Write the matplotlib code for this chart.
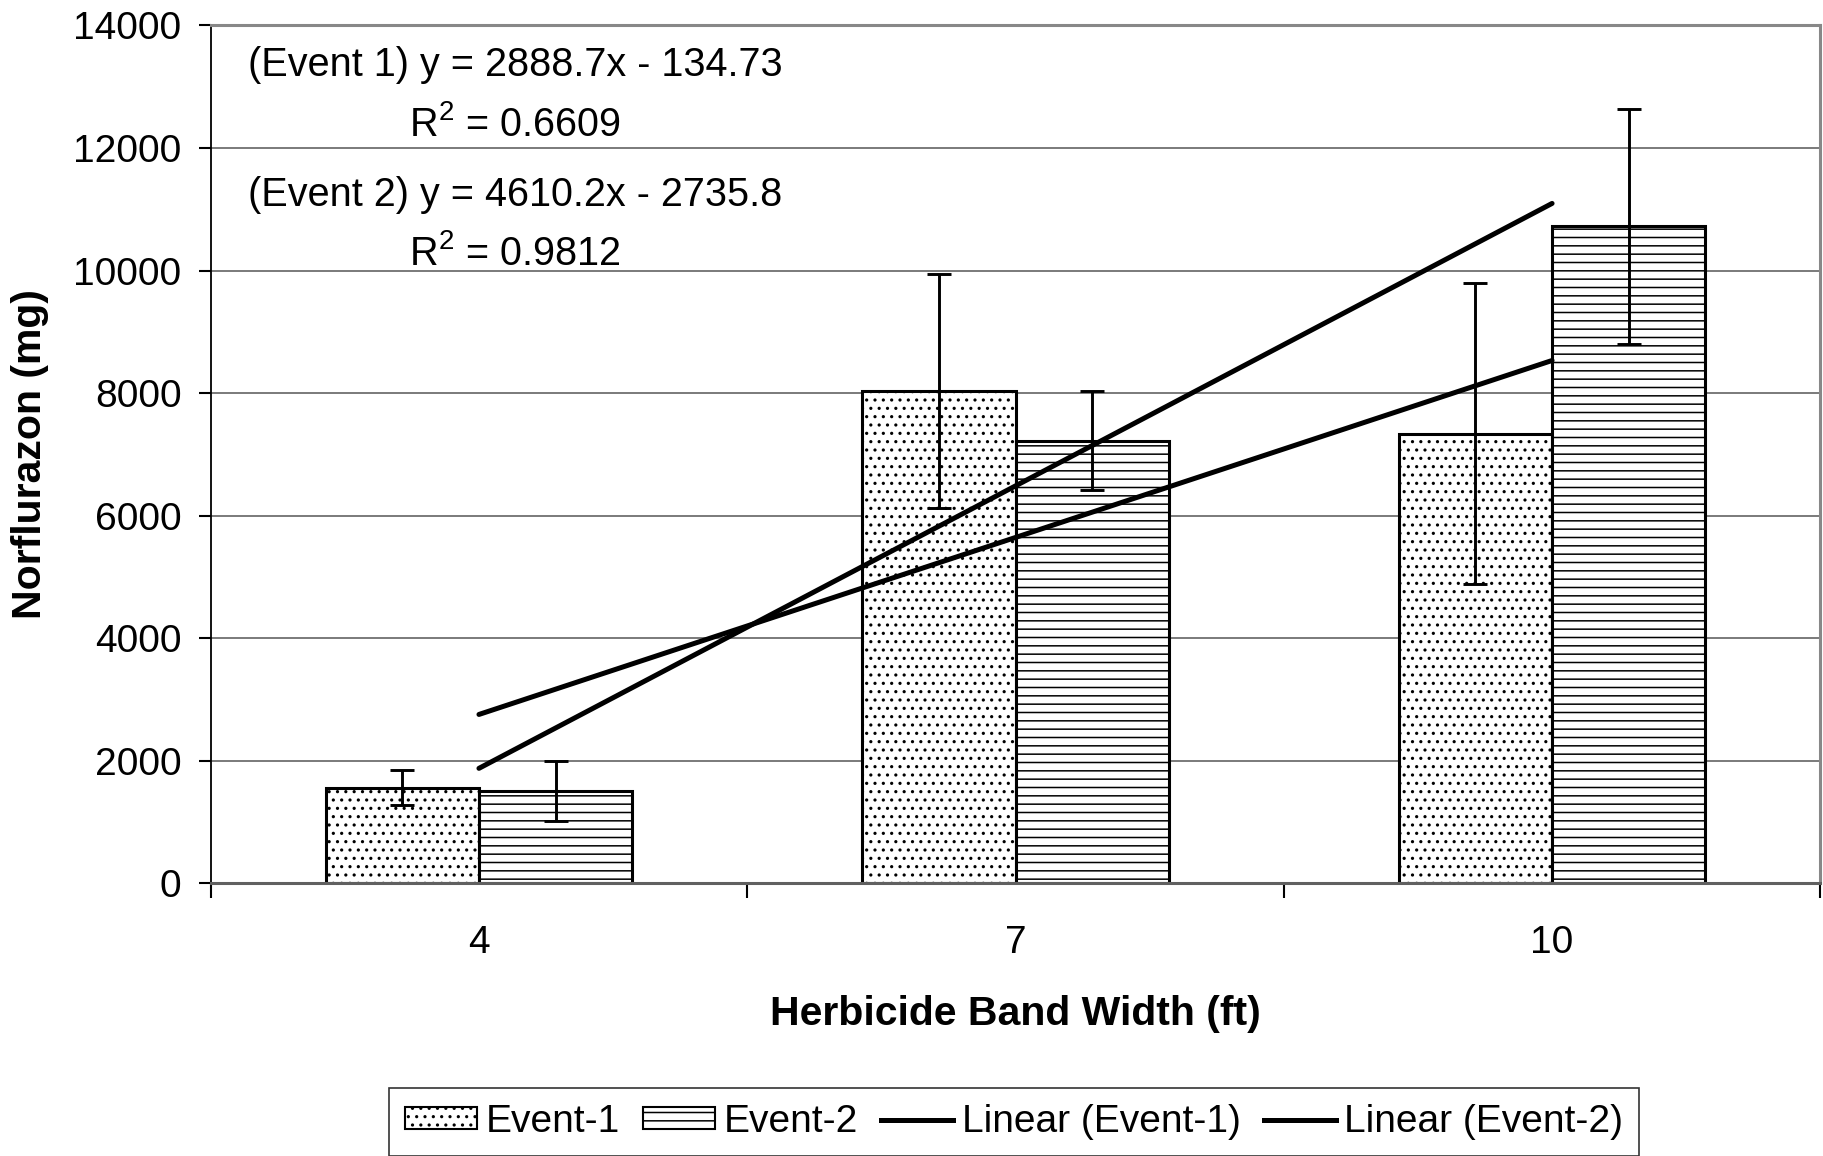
import matplotlib
matplotlib.use('Agg')
import matplotlib.pyplot as plt
import numpy as np
from matplotlib.patches import Patch
from matplotlib.lines import Line2D

plt.rcParams['font.family'] = ['Liberation Sans', 'DejaVu Sans']
plt.rcParams['hatch.linewidth'] = 1.1

# --- data ---
band_widths = ['4', '7', '10']
event1 = [1560, 8033, 7337]
event2 = [1506, 7221, 10726]
event1_err = [280, 1905, 2460]
event2_err = [485, 807, 1918]

# linear trends fitted on category index 1..3
trend_slopes = [2888.7, 4610.2]
trend_intercepts = [-134.73, -2735.8]
trend_r2 = [0.6609, 0.9812]
trend_names = ['Event 1', 'Event 2']
trend_eq_text = ['2888.7x - 134.73', '4610.2x - 2735.8']

FS = 28
TITLE_FS = 29.5
GRID = '#707070'

fig = plt.figure(figsize=(18.24, 11.56), dpi=100)
ax = fig.add_axes([0.1155, 0.236, 0.998 - 0.1155, 0.978 - 0.236])

idx = np.arange(len(band_widths))
w = 1 / 3.5

ax.bar(idx - w / 2, event1, width=w, facecolor='white', edgecolor='black',
       linewidth=2.2, hatch='..', zorder=2)
ax.bar(idx + w / 2, event2, width=w, facecolor='white', edgecolor='black',
       linewidth=2.2, hatch='--', zorder=2)

ax.errorbar(idx - w / 2, event1, yerr=event1_err, fmt='none', ecolor='black',
            elinewidth=2.1, capsize=8.5, capthick=2.1, zorder=3)
ax.errorbar(idx + w / 2, event2, yerr=event2_err, fmt='none', ecolor='black',
            elinewidth=2.1, capsize=8.5, capthick=2.1, zorder=3)

# trend lines from first to last category
xs = np.array([1, len(band_widths)])
for m, b in zip(trend_slopes, trend_intercepts):
    ax.plot(xs - 1, m * xs + b, color='black', lw=3.6,
            solid_capstyle='round', zorder=4)

# equation labels
eq_y = [(0.9536, 0.8847), (0.8019, 0.7343)]
for name, eq, r2, (y1, y2) in zip(trend_names, trend_eq_text, trend_r2, eq_y):
    ax.text(0.189, y1, f'({name}) y = {eq}', transform=ax.transAxes,
            fontsize=28.5, ha='center', va='center', zorder=5)
    ax.text(0.189, y2, r'$\mathregular{R^2}$' + f' = {r2:.4f}',
            transform=ax.transAxes, fontsize=28.5, ha='center', va='center',
            zorder=5)

# axes
ax.set_xlim(-0.5, len(band_widths) - 0.5)
ax.set_ylim(0, 14000)
ax.set_yticks(np.arange(0, 14001, 2000))
ax.yaxis.grid(True, color=GRID, lw=1.3)
ax.set_axisbelow(True)

ax.set_xticks(np.arange(len(band_widths) + 1) - 0.5)
ax.set_xticklabels([])
ax.set_xticks(idx, minor=True)
ax.set_xticklabels(band_widths, minor=True)
ax.tick_params(axis='x', which='major', length=11, width=1.5, color='black',
               direction='out')
ax.tick_params(axis='x', which='minor', length=0, pad=30, labelsize=FS)
ax.tick_params(axis='y', length=9, width=1.5, color='black', pad=12,
               labelsize=FS, direction='out')

ax.spines['left'].set_color('black')
ax.spines['left'].set_linewidth(1.3)
ax.spines['bottom'].set_color('#606060')
ax.spines['bottom'].set_linewidth(2.2)
for s in ('top', 'right'):
    ax.spines[s].set_color('#888888')
    ax.spines[s].set_linewidth(2.2)

ax.set_xlabel('Herbicide Band Width (ft)', fontsize=TITLE_FS, fontweight='bold')
ax.xaxis.set_label_coords(0.5, -0.1528)
ax.xaxis.label.set_va('center')
ax.set_ylabel('Norflurazon (mg)', fontsize=TITLE_FS, fontweight='bold')
ax.yaxis.set_label_coords(-0.1125, 0.5)
ax.yaxis.label.set_va('center')

handles = [
    Patch(facecolor='white', edgecolor='black', hatch='..', lw=1.5),
    Patch(facecolor='white', edgecolor='black', hatch='--', lw=1.5),
    Line2D([], [], color='black', lw=3.6),
    Line2D([], [], color='black', lw=3.6),
]
labels = ['Event-1', 'Event-2', 'Linear (Event-1)', 'Linear (Event-2)']
leg = fig.legend(handles, labels, loc='center', bbox_to_anchor=(0.556, 0.0294),
                 ncol=4, fontsize=FS, frameon=True, fancybox=False,
                 handlelength=1.85, handleheight=0.5, handletextpad=0.22,
                 columnspacing=0.6, borderpad=0.4, borderaxespad=0)
leg.get_frame().set_edgecolor('black')
leg.get_frame().set_linewidth(1.2)

fig.savefig('out.png', dpi=100, facecolor='white')
